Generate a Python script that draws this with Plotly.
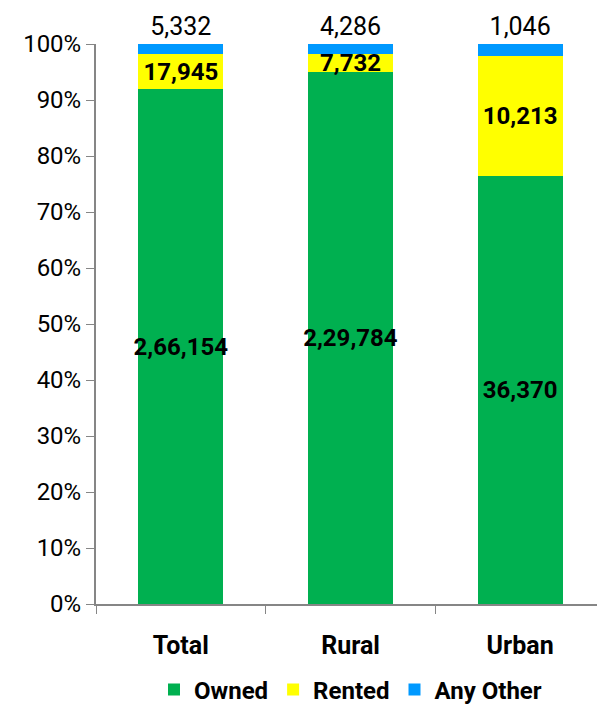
import plotly.graph_objects as go

# Data
categories = ["Total", "Rural", "Urban"]
owned = [266154, 229784, 36370]
rented = [17945, 7732, 10213]
any_other = [5332, 4286, 1046]


def indian_fmt(n):
    # Indian digit grouping, e.g. 2,66,154
    s = str(n)
    if len(s) <= 3:
        return s
    head, tail = s[:-3], s[-3:]
    groups = []
    while len(head) > 2:
        groups.insert(0, head[-2:])
        head = head[:-2]
    if head:
        groups.insert(0, head)
    return ",".join(groups) + "," + tail


font_family = "Roboto, Arial, sans-serif"
inner_font = dict(family=font_family, size=24, color="black", weight="bold")

fig = go.Figure()
fig.add_trace(go.Bar(
    x=categories, y=owned, name="Owned", marker=dict(color="#00B050", line=dict(width=0)),
    text=[indian_fmt(v) for v in owned], textposition="inside", insidetextanchor="middle",
    textangle=0, textfont=inner_font, constraintext="none", hoverinfo="skip",
))
fig.add_trace(go.Bar(
    x=categories, y=rented, name="Rented", marker=dict(color="#FFFF00", line=dict(width=0)),
    text=[indian_fmt(v) for v in rented], textposition="inside", insidetextanchor="middle",
    textangle=0, textfont=inner_font, constraintext="none", hoverinfo="skip",
))
fig.add_trace(go.Bar(
    x=categories, y=any_other, name="Any Other", marker=dict(color="#0099FF", line=dict(width=0)),
    text=[indian_fmt(v) for v in any_other], textposition="outside", textangle=0,
    textfont=dict(family=font_family, size=25, color="black"),
    constraintext="none", cliponaxis=False, hoverinfo="skip",
))

# the page body adds an 8px margin, so the figure is sized 8px smaller
fig.update_layout(
    barmode="stack",
    barnorm="percent",
    bargap=0.5,
    width=597,
    height=697,
    margin=dict(l=88, r=0, t=36, b=101, autoexpand=False),
    plot_bgcolor="white",
    paper_bgcolor="white",
    font=dict(family=font_family, size=24, color="black"),
    showlegend=True,
    legend=dict(
        orientation="h", x=0.5, xanchor="center", y=-0.113, yanchor="top",
        font=dict(family=font_family, size=24, color="black", weight="bold"),
        traceorder="normal",
    ),
    xaxis=dict(
        showline=True, linecolor="#868686", linewidth=2, automargin=False,
        ticks="outside", tickson="boundaries", ticklen=8, tickcolor="#868686",
        tickfont=dict(family=font_family, size=25, color="black", weight="bold"),
        ticklabelstandoff=18,
    ),
    yaxis=dict(
        range=[0, 100], dtick=10, ticksuffix="%", showgrid=False, zeroline=False,
        showline=True, linecolor="#868686", linewidth=2, automargin=False,
        ticks="outside", ticklen=8, tickcolor="#868686",
        tickfont=dict(family=font_family, size=24, color="black"),
    ),
)

fig.write_html("out.html")
